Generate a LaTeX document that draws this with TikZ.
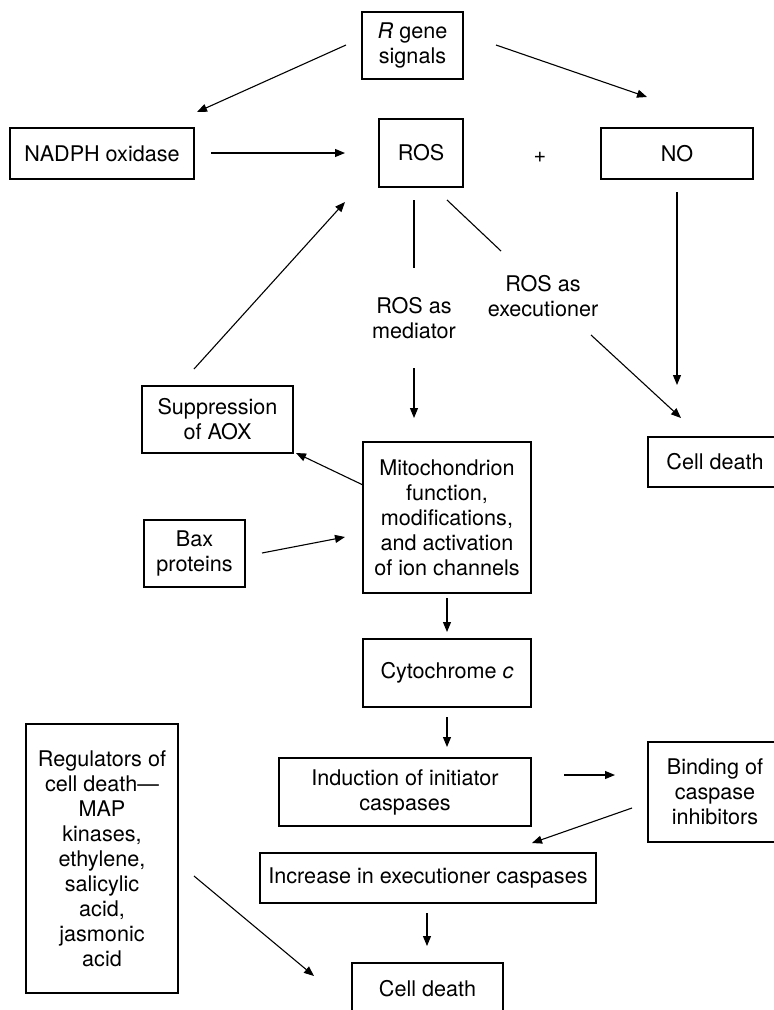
\documentclass[tikz,border=0pt]{standalone}
\usepackage{fontspec}
\setmainfont{TeX Gyre Heros}
\usetikzlibrary{arrows.meta}
\begin{document}
\begin{tikzpicture}[x=1pt,y=-1pt,
  box/.style={draw,line width=1.2pt,inner sep=0pt,align=center,
    font=\fontsize{21.6pt}{25pt}\selectfont},
  lbl/.style={inner sep=0pt,align=center,font=\fontsize{21.6pt}{25pt}\selectfont},
  conn/.style={line width=1.1pt},
  arr/.style={line width=1.1pt,-{Triangle[length=10pt,width=8pt]}}]
\useasboundingbox (0,0) rectangle (774,1010);
\clip (0,0) rectangle (774,1010);
% boxes
\node[box,minimum width=101pt,minimum height=67pt] (rg) at (412.5,45.5) {\textit{R} gene\\signals};
\node[box,minimum width=184pt,minimum height=51pt] (nadph) at (102,153.5) {NADPH oxidase};
\node[box,minimum width=84pt,minimum height=68pt] (ros) at (421,153) {ROS};
\node[box,minimum width=152pt,minimum height=51pt] (no) at (677,153.5) {NO};
\node[box,minimum width=151pt,minimum height=67pt] (supp) at (217.5,419.5) {Suppression\\of AOX};
\node[box,minimum width=168pt,minimum height=151pt] (mito) at (447,517.5) {Mitochondrion\\function,\\modifications,\\and activation\\of ion channels};
\node[box,minimum width=134pt,minimum height=50pt] (cd1) at (715,462) {Cell death};
\node[box,minimum width=101pt,minimum height=67pt] (bax) at (194.5,553.5) {Bax\\proteins};
\node[box,minimum width=168pt,minimum height=68pt] (cyto) at (447,673) {Cytochrome \textit{c}};
\node[box,minimum width=152pt,minimum height=269pt] (reg) at (102,858.5) {Regulators of\\cell death—\\MAP\\kinases,\\ethylene,\\salicylic\\acid,\\jasmonic\\acid};
\node[box,minimum width=252pt,minimum height=68pt] (ind) at (405,792) {Induction of initiator\\caspases};
\node[box,minimum width=134pt,minimum height=100pt] (bind) at (715,792) {Binding of\\caspase\\inhibitors};
\node[box,minimum width=336pt,minimum height=50pt] (inc) at (428,878) {Increase in executioner caspases};
\node[box,minimum width=151pt,minimum height=52pt] (cd2) at (427.5,989) {Cell death};
% labels
\node[lbl] (plus) at (540,157) {+};
\node[lbl] (med) at (414,318) {ROS as\\mediator};
\node[lbl] (exe) at (543,296) {ROS as\\executioner};
% connector end points
\coordinate (c1s) at (346,45);  \coordinate (c1e) at (197,112);
\coordinate (c2s) at (496,45);  \coordinate (c2e) at (647,97);
\coordinate (c3s) at (211,153); \coordinate (c3e) at (345,153);
\coordinate (c4s) at (677,192); \coordinate (c4e) at (677,385);
\coordinate (c5s) at (414,200); \coordinate (c5e) at (414,268);
\coordinate (c6s) at (414,368); \coordinate (c6e) at (414,418);
\coordinate (c7s) at (447,200); \coordinate (c7e) at (501,251);
\coordinate (c8s) at (591,335); \coordinate (c8e) at (681,418);
\coordinate (c9s) at (194,369); \coordinate (c9e) at (345,202);
\coordinate (c10s) at (363,485); \coordinate (c10e) at (296,453);
\coordinate (c11s) at (262,553); \coordinate (c11e) at (345,537);
\coordinate (c12s) at (447,598); \coordinate (c12e) at (447,632);
\coordinate (c13s) at (447,717); \coordinate (c13e) at (447,747);
\coordinate (c14s) at (564,775); \coordinate (c14e) at (615,775);
\coordinate (c15s) at (632,808); \coordinate (c15e) at (532,843);
\coordinate (c16s) at (427,913); \coordinate (c16e) at (427,946);
\coordinate (c17s) at (194,876); \coordinate (c17e) at (314,976);
% connectors
\draw[arr] (c1s) -- (c1e);
\draw[arr] (c2s) -- (c2e);
\draw[arr] (c3s) -- (c3e);
\draw[arr] (c4s) -- (c4e);
\draw[conn] (c5s) -- (c5e);
\draw[arr] (c6s) -- (c6e);
\draw[conn] (c7s) -- (c7e);
\draw[arr] (c8s) -- (c8e);
\draw[arr] (c9s) -- (c9e);
\draw[arr] (c10s) -- (c10e);
\draw[arr] (c11s) -- (c11e);
\draw[arr] (c12s) -- (c12e);
\draw[arr] (c13s) -- (c13e);
\draw[arr] (c14s) -- (c14e);
\draw[arr] (c15s) -- (c15e);
\draw[arr] (c16s) -- (c16e);
\draw[arr] (c17s) -- (c17e);
\end{tikzpicture}
\end{document}
